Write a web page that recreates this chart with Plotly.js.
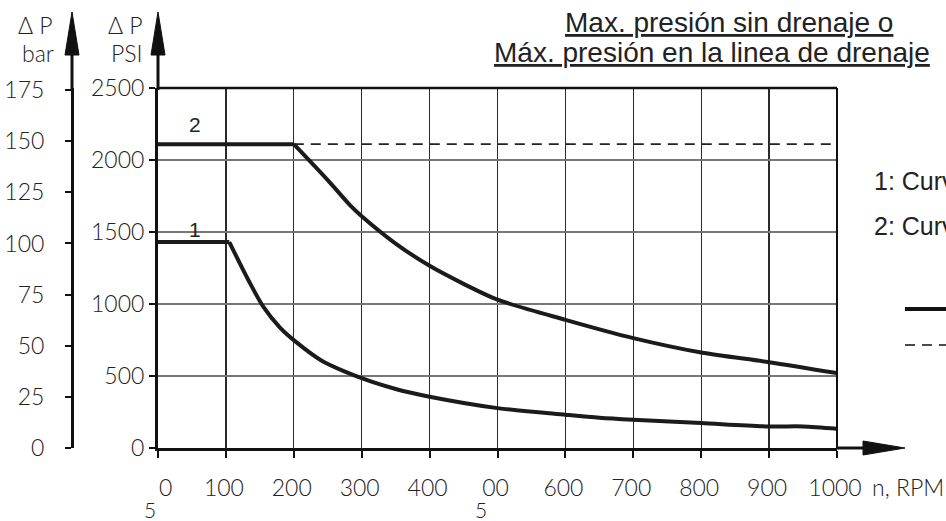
<!DOCTYPE html>
<html>
<head>
<meta charset="utf-8">
<script src="https://cdn.plot.ly/plotly-3.0.1.min.js"></script>
<style>html,body{margin:0;padding:0;background:#fff;}#chart{width:946px;height:521px;}</style>
</head>
<body>
<div id="chart"></div>
<script>
// ---- data ----
const rpmTicks = [0, 100, 200, 300, 400, 500, 600, 700, 800, 900, 1000];
const rpmTickText = ['0', '100', '200', '300', '400', '00', '600', '700', '800', '900', '1000'];
const barTicks = [0, 25, 50, 75, 100, 125, 150, 175];
const psiTicks = [0, 500, 1000, 1500, 2000, 2500];

// curve 1: flat part and falling part
const curve1FlatRpm = [0, 105];
const curve1FlatPsi = [1430, 1430];
const curve1Rpm = [105, 133, 155, 180, 205, 240, 300, 350, 400, 500, 600, 650, 700, 800, 900, 950, 1000];
const curve1Psi = [1430, 1167, 982, 835, 730, 610, 485, 410, 356, 277, 231, 210, 196, 173, 150, 150, 134];

// curve 2: flat part and falling part
const curve2FlatRpm = [0, 200];
const curve2FlatPsi = [2110, 2110];
const curve2Rpm = [200, 250, 283, 300, 350, 400, 450, 500, 600, 700, 800, 900, 1000];
const curve2Psi = [2110, 1860, 1685, 1610, 1420, 1265, 1140, 1030, 890, 763, 663, 596, 520];

// dashed limit (continuation of curve 2 plateau)
const limitRpm = [200, 1000];
const limitPsi = [2110, 2110];

const titleLine1 = 'Max. presión sin drenaje o';
const titleLine2 = 'Máx. presión en la linea de drenaje';
const curveLabels = ['1', '2'];
const sideLabels = ['1: Curva', '2: Curva'];

// ---- layout helpers (pixel -> paper) ----
const W = 946, H = 521, ML = 40, MR = 40, MT = 88, MB = 73;
const PW = W - ML - MR, PH = H - MT - MB;
const px = x => (x - ML) / PW;
const py = y => (H - MB - y) / PH;

const tickFont = {family: 'Lato, "Liberation Sans", sans-serif', size: 23, weight: 300, color: '#222'};
const smallFont = {family: 'Lato, "Liberation Sans", sans-serif', size: 21, weight: 300, color: '#222'};
const textFont = {family: '"Liberation Sans", Arial, sans-serif', size: 28, color: '#222'};

const curveStyle = {color: '#1b1b1b', width: 4};
const lineTrace = (x, y, shape) => ({x: x, y: y, mode: 'lines',
  line: Object.assign({shape: shape, smoothing: 0.8}, curveStyle), hoverinfo: 'skip', showlegend: false});

const traces = [
  lineTrace(curve1FlatRpm, curve1FlatPsi, 'linear'),
  lineTrace(curve1Rpm, curve1Psi, 'spline'),
  lineTrace(curve2FlatRpm, curve2FlatPsi, 'linear'),
  lineTrace(curve2Rpm, curve2Psi, 'spline'),
  {x: limitRpm, y: limitPsi, mode: 'lines', line: {color: '#222', width: 1.6, dash: '10px,7px'}, hoverinfo: 'skip', showlegend: false},
  {x: [0], y: [0], yaxis: 'y2', mode: 'markers', marker: {opacity: 0}, hoverinfo: 'skip', showlegend: false}
];

function tri(tipX, tipY, b1x, b1y, b2x, b2y) {
  return {type: 'path', xref: 'paper', yref: 'paper',
    path: `M ${px(tipX)} ${py(tipY)} L ${px(b1x)} ${py(b1y)} L ${px(b2x)} ${py(b2y)} Z`,
    fillcolor: '#111', line: {color: '#111', width: 1}};
}
function seg(x0, y0, x1, y1, w, dash) {
  return {type: 'line', xref: 'paper', yref: 'paper', x0: px(x0), y0: py(y0), x1: px(x1), y1: py(y1),
    line: {color: '#111', width: w, dash: dash || 'solid'}};
}

const shapes = [
  seg(158, 88, 837, 88, 2.5),
  seg(837, 88, 837, 449, 2),
  seg(158, 90, 158, 50, 3),
  tri(158, 12, 151, 55, 165, 55),
  seg(72, 90, 72, 50, 3),
  tri(72, 12, 65, 55, 79, 55),
  seg(836, 448, 866, 448, 3),
  tri(905, 448, 863, 441, 863, 455),
  seg(905, 309, 946, 309, 4),
  seg(905, 345, 946, 345, 1.6, '10px,7px')
];

const axisTickText = rpmTickText.map((t, i) => i === 0 ? '' : t);

const annotations = [
  {xref: 'paper', yref: 'paper', x: px(729), y: py(23), xanchor: 'center', yanchor: 'middle', showarrow: false,
   text: '<u>' + titleLine1 + '</u>', font: textFont},
  {xref: 'paper', yref: 'paper', x: px(492), y: py(53), xanchor: 'left', yanchor: 'middle', showarrow: false,
   text: '<u>' + titleLine2 + '</u>', font: textFont},
  {xref: 'paper', yref: 'paper', x: px(872), y: py(181), xanchor: 'left', yanchor: 'middle', showarrow: false,
   text: sideLabels[0], font: {family: textFont.family, size: 25, color: '#222'}},
  {xref: 'paper', yref: 'paper', x: px(872), y: py(226), xanchor: 'left', yanchor: 'middle', showarrow: false,
   text: sideLabels[1], font: {family: textFont.family, size: 25, color: '#222'}},
  {xref: 'x', yref: 'paper', x: 55, y: py(124), xanchor: 'center', yanchor: 'middle', showarrow: false,
   text: curveLabels[1], font: {family: textFont.family, size: 21, color: '#222'}},
  {xref: 'x', yref: 'paper', x: 55, y: py(229), xanchor: 'center', yanchor: 'middle', showarrow: false,
   text: curveLabels[0], font: {family: textFont.family, size: 21, color: '#222'}},
  {xref: 'paper', yref: 'paper', x: px(35), y: py(25), xanchor: 'center', yanchor: 'middle', showarrow: false, text: 'Δ P', font: tickFont},
  {xref: 'paper', yref: 'paper', x: px(38), y: py(53), xanchor: 'center', yanchor: 'middle', showarrow: false, text: 'bar', font: tickFont},
  {xref: 'paper', yref: 'paper', x: px(125), y: py(25), xanchor: 'center', yanchor: 'middle', showarrow: false, text: 'Δ P', font: tickFont},
  {xref: 'paper', yref: 'paper', x: px(127), y: py(53), xanchor: 'center', yanchor: 'middle', showarrow: false, text: 'PSI', font: tickFont},
  {xref: 'paper', yref: 'paper', x: px(946), y: py(487), xanchor: 'right', yanchor: 'middle', showarrow: false, text: 'n, RPM', font: tickFont},
  {xref: 'x', yref: 'paper', x: rpmTicks[0], xshift: 7, y: py(487), xanchor: 'center', yanchor: 'middle', showarrow: false, text: rpmTickText[0], font: tickFont},
  {xref: 'x', yref: 'paper', x: rpmTicks[0], xshift: -8, y: py(509), xanchor: 'center', yanchor: 'middle', showarrow: false, text: '5', font: smallFont},
  {xref: 'x', yref: 'paper', x: rpmTicks[5], xshift: -17, y: py(509), xanchor: 'center', yanchor: 'middle', showarrow: false, text: '5', font: smallFont}
];

const layout = {
  width: W, height: H,
  margin: {l: ML, r: MR, t: MT, b: MB, pad: 0},
  paper_bgcolor: '#fff', plot_bgcolor: '#fff',
  showlegend: false,
  xaxis: {
    domain: [px(158), px(837)], range: [0, 1000], fixedrange: true,
    tickvals: rpmTicks, ticktext: axisTickText,
    showgrid: true, gridcolor: '#2a2a2a', gridwidth: 1.2, zeroline: false,
    showline: true, linecolor: '#111', linewidth: 3,
    ticks: 'outside', ticklen: 7, tickwidth: 2, tickcolor: '#111',
    ticklabelstandoff: 10, ticklabelshift: -2, tickfont: tickFont
  },
  yaxis: {
    range: [0, 2500], fixedrange: true, anchor: 'x',
    tickvals: psiTicks,
    showgrid: true, gridcolor: '#777', gridwidth: 1.4, zeroline: false,
    showline: true, linecolor: '#111', linewidth: 3,
    ticks: 'outside', ticklen: 6, tickwidth: 2, tickcolor: '#111',
    tickfont: tickFont
  },
  yaxis2: {
    range: [0, 176], fixedrange: true, overlaying: 'y', anchor: 'free', position: px(72), side: 'left',
    tickvals: barTicks,
    showgrid: false, zeroline: false,
    showline: true, linecolor: '#111', linewidth: 3,
    ticks: 'outside', ticklen: 6, tickwidth: 2, tickcolor: '#111',
    ticklabelstandoff: 16, tickfont: tickFont
  },
  shapes: shapes,
  annotations: annotations
};

Plotly.newPlot('chart', traces, layout, {displayModeBar: false, staticPlot: true});
</script>
</body>
</html>
